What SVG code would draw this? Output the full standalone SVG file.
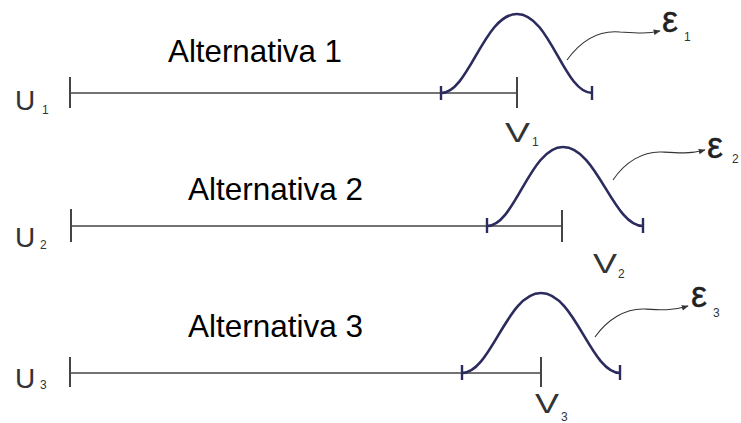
<svg xmlns="http://www.w3.org/2000/svg" width="741" height="423" viewBox="0 0 741 423">
<defs>
<marker id="ah" viewBox="0 0 10 10" refX="9" refY="5" markerWidth="7" markerHeight="7" orient="auto" markerUnits="userSpaceOnUse">
<path d="M0,1 L10,5 L0,9 z" fill="#333"/>
</marker>
</defs>
<style>
.axis{stroke:#444;stroke-width:1.6;fill:none}
.tick{stroke:#444;stroke-width:2;fill:none}
.btick{stroke:#2b2b5e;stroke-width:2.4;fill:none}
.bell{stroke:#2b2b5e;stroke-width:2.6;fill:none}
.arr{stroke:#333;stroke-width:1.1;fill:none}
.alt{font-family:"Liberation Sans",Arial,sans-serif;font-size:32px;fill:#000}
.lbl{font-family:"Liberation Sans",Arial,sans-serif;font-size:28px;fill:#333}
.eps{font-family:"Liberation Sans",Arial,sans-serif;font-size:36px;fill:#222;stroke:#222;stroke-width:0.4}
.sub{font-family:"Liberation Sans",Arial,sans-serif;font-size:12px;fill:#333}
</style>
<rect width="741" height="423" fill="#fff"/>

<g id="alt1">
<line class="axis" x1="70" y1="93" x2="517" y2="93"/>
<line class="tick" x1="70" y1="77" x2="70" y2="108"/>
<line class="tick" x1="517" y1="77" x2="517" y2="108"/>
<path class="bell" d="M441,93 C469,93 484,14 517,14 C550,14 564,93 592,93"/>
<line class="btick" x1="441" y1="86" x2="441" y2="100"/>
<line class="btick" x1="592" y1="86" x2="592" y2="100"/>
<text class="alt" x="168" y="62" textLength="174" lengthAdjust="spacingAndGlyphs">Alternativa 1</text>
<text class="lbl" x="15" y="110">U</text><text class="sub" x="42" y="114">1</text>
<text class="lbl" x="505" y="142" textLength="25" lengthAdjust="spacingAndGlyphs">V</text><text class="sub" x="532" y="146">1</text>
<text class="eps" x="662" y="32">ε</text><text class="sub" x="684" y="41">1</text>
</g>

<g id="alt2">
<line class="axis" x1="71" y1="226" x2="562" y2="226"/>
<line class="tick" x1="71" y1="209" x2="71" y2="242"/>
<line class="tick" x1="562" y1="210" x2="562" y2="242"/>
<path class="bell" d="M487,226 C515,226 530,147 563,147 C597,147 613,226 643,226"/>
<line class="btick" x1="487" y1="218" x2="487" y2="233"/>
<line class="btick" x1="643" y1="218" x2="643" y2="233"/>
<text class="alt" x="188" y="200" textLength="175" lengthAdjust="spacingAndGlyphs">Alternativa 2</text>
<text class="lbl" x="15" y="247">U</text><text class="sub" x="40" y="249">2</text>
<text class="lbl" x="593" y="273" textLength="24" lengthAdjust="spacingAndGlyphs">V</text><text class="sub" x="618" y="278">2</text>
<text class="eps" x="707" y="158">ε</text><text class="sub" x="732" y="163">2</text>
</g>

<g id="alt3">
<line class="axis" x1="70" y1="373" x2="541" y2="373"/>
<line class="tick" x1="70" y1="357" x2="70" y2="387"/>
<line class="tick" x1="541" y1="357" x2="541" y2="387"/>
<path class="bell" d="M462,373 C491,373 507,293 541,293 C575,293 591,373 620,373"/>
<line class="btick" x1="462" y1="365" x2="462" y2="380"/>
<line class="btick" x1="620" y1="365" x2="620" y2="380"/>
<text class="alt" x="188" y="337" textLength="175" lengthAdjust="spacingAndGlyphs">Alternativa 3</text>
<text class="lbl" x="15" y="388">U</text><text class="sub" x="40" y="389">3</text>
<text class="lbl" x="535" y="413" textLength="24" lengthAdjust="spacingAndGlyphs">V</text><text class="sub" x="561" y="421">3</text>
<text class="eps" x="691" y="307">ε</text><text class="sub" x="713" y="317">3</text>
</g>

<g id="connectors">
<path class="arr" marker-end="url(#ah)" d="M567,60 C580,42 598,30 620,32 C636,33 646,34 660,31"/>
<path class="arr" marker-end="url(#ah)" d="M613,180 C625,162 643,151 662,152 C678,153 690,154 705,150"/>
<path class="arr" marker-end="url(#ah)" d="M595,337 C607,320 625,308 645,309 C660,310 672,311 688,306"/>
</g>
</svg>
